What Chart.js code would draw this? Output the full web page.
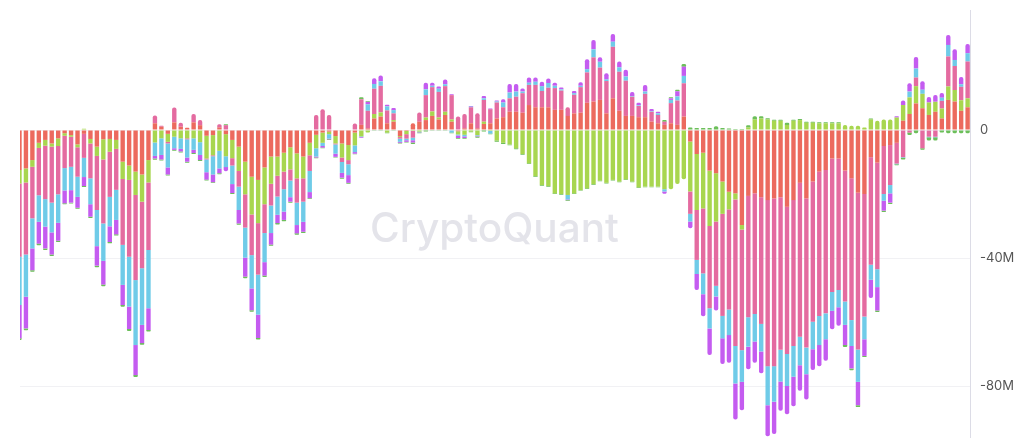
<!DOCTYPE html>
<html lang="en">
<head>
    <meta charset="UTF-8">
    <title>Stacked flows</title>
    <script src="https://cdn.jsdelivr.net/npm/chart.js"></script>
    <style>
        html, body { margin: 0; padding: 0; background: #ffffff; }
        #wrap { width: 1030px; height: 438px; position: relative; }
    </style>
</head>
<body>
    <div id="wrap"><canvas id="flowChart"></canvas></div>

    <script>
        // values in millions, one entry per bar (148 bars)
        const red = [
            -12.5, -12.0, -9.4, -4.0, -3.1, -4.2, -2.6, -1.0, -1.6, -4.5,
            -1.2, -2.8, -5.2, -2.9, -2.8, -3.1, -9.9, -11.1, -13.0, -13.9,
            -9.4, 2.1, 1.0, -1.2, 2.4, 1.0, 0.7, 2.4, 1.5, -1.8,
            -1.6, 0.8, -1.3, -3.1, -5.2, -9.9, -14.6, -15.6, -11.7, -8.3,
            -8.3, -7.1, -5.4, -7.3, -8.3, -4.0, -1.5, -0.8, -0.5, -1.9,
            -4.2, -4.7, -0.8, 1.6, 0.5, 3.6, 4.2, 2.1, 2.6, -1.9,
            -0.3, 2.1, 2.6, 3.1, 4.4, 3.3, 4.7, 2.6, -0.4, 0.5,
            2.1, 0.5, 1.9, 2.1, 3.6, 4.0, 5.7, 5.7, 5.4, 7.8,
            7.1, 7.1, 7.1, 6.3, 6.3, 4.4, 5.2, 5.4, 8.5, 8.9,
            9.4, 5.2, 9.9, 6.0, 4.4, 4.4, 4.0, 4.0, 2.6, 2.1,
            1.6, 2.1, 1.6, 4.2, -3.6, -7.5, -7.1, -12.7, -13.5, -16.1,
            -19.3, -19.8, -29.7, -20.6, -19.8, -21.0, -21.9, -21.4, -21.0, -24.0,
            -21.9, -16.5, -21.4, -16.1, -13.0, -12.5, -8.9, -8.9, -12.7, -15.1,
            -19.6, -20.0, -8.5, -10.2, -5.0, -4.7, -4.0, 2.9, 5.0, 8.3,
            6.8, 4.7, 5.7, 3.6, 9.4, 8.9, 6.0, 7.1
        ];
        const lime = [
            -4.2, -4.4, -2.1, -1.6, -1.8, -1.0, -2.4, -0.8, -0.5, -0.9,
            0.4, -1.4, -2.9, -6.3, -4.0, -2.8, -5.4, -4.5, -7.3, -8.5,
            -7.0, -3.9, -2.6, -2.5, -2.1, -2.6, -2.6, -2.6, -3.8, -7.1,
            -6.3, -6.5, -6.9, -5.7, -7.6, -10.2, -11.8, -13.5, -11.5, -8.5,
            -6.0, -5.9, -6.9, -7.8, -6.8, -3.9, -4.2, -3.2, -0.8, -2.3,
            -4.4, -4.7, -4.0, -2.0, -0.8, 1.4, 1.3, -0.8, 0.5, -0.3,
            -1.0, -0.3, -0.5, 0.8, 1.4, 0.6, 1.0, 0.7, -1.0, -1.5,
            -0.5, -1.6, 0.7, -0.3, -3.3, -4.0, -4.5, -5.7, -7.5, -10.4,
            -14.4, -17.2, -17.5, -19.8, -20.0, -20.3, -19.8, -18.8, -18.2, -16.9,
            -15.8, -16.5, -15.6, -16.1, -15.4, -16.1, -17.9, -17.7, -17.7, -17.7,
            -18.5, -18.5, -16.9, -15.4, -15.6, -17.5, -17.4, -17.3, -15.1, -10.1,
            -5.5, -1.9, -1.4, 0.8, 3.3, 3.6, 3.3, 2.9, 2.9, 1.6,
            2.9, 3.1, 2.3, 2.3, 2.1, 2.1, 2.1, 2.1, 1.6, 1.3,
            1.3, 0.8, 3.3, 2.9, 3.3, 3.3, 3.9, 4.9, 5.2, 5.4,
            4.5, 3.9, 3.1, 3.1, 4.2, 3.6, 3.3, 2.8
        ];
        const pink = [
            -22.9, -22.5, -16.1, -14.8, -16.7, -17.5, -15.1, -10.1, -9.4, -9.2,
            -7.5, -10.9, -16.9, -20.0, -14.1, -12.8, -20.6, -24.0, -26.6, -20.8,
            -21.1, 2.4, 0.3, -0.5, 4.6, 1.3, -0.3, 2.6, 1.6, -0.3,
            -0.3, 1.0, 1.5, -2.3, -4.9, -10.4, -12.7, -16.1, -9.0, -6.8,
            -6.5, -5.5, -3.5, -7.6, -7.3, -4.9, 4.7, 6.5, 4.7, -0.3,
            -1.4, -1.3, 2.0, 8.0, 5.5, 7.9, 8.3, 4.0, 2.1, -0.5,
            -1.4, -2.1, 2.9, 7.0, 7.6, 8.0, 8.0, 7.6, 4.2, 4.5,
            5.0, 4.7, 6.8, 4.4, 5.0, 3.1, 4.2, 4.7, 6.1, 6.3,
            7.0, 5.1, 6.1, 6.8, 6.0, 2.7, 5.8, 8.0, 9.5, 13.8,
            10.1, 10.1, 16.1, 12.2, 11.0, 6.0, 3.5, 7.3, 3.1, 2.6,
            1.0, 6.3, 7.6, 10.4, -7.0, -15.6, -20.3, -25.7, -20.1, -31.9,
            -31.3, -45.8, -37.7, -37.9, -37.7, -39.6, -51.9, -52.4, -47.7, -46.0,
            -45.6, -48.1, -46.6, -43.8, -45.1, -44.8, -41.7, -41.1, -40.9, -44.3,
            -49.0, -38.3, -33.6, -33.3, -15.0, -12.5, -6.5, -8.5, -0.8, 2.7,
            -5.7, -2.1, -2.1, 2.4, 9.4, 7.5, 4.2, 11.5
        ];
        const blue = [
            -15.1, -13.2, -9.4, -8.3, -8.6, -9.3, -8.9, -7.0, -7.3, -6.3,
            -6.0, -8.1, -11.3, -11.7, -9.2, -9.4, -12.5, -15.6, -20.3, -17.7,
            -18.2, -4.2, -5.2, -7.5, -3.6, -3.3, -5.7, -3.6, -4.0, -4.0,
            -5.7, -5.5, -3.4, -5.8, -7.3, -9.4, -10.4, -12.5, -9.1, -8.6,
            -5.7, -7.0, -5.2, -7.0, -6.3, -6.6, -2.6, -1.0, -1.4, -2.9,
            -3.4, -3.4, -2.1, -0.2, 2.0, 1.5, 1.4, 1.3, 1.0, -1.0,
            -0.5, -0.8, -0.2, 1.8, 0.4, 1.0, 0.6, -0.8, -0.3, -0.5,
            0.2, -0.2, 0.5, -0.8, 0.3, 1.5, 1.8, 1.6, 0.5, 0.7,
            1.0, 1.5, 1.5, 0.7, 0.4, -1.4, 0.5, 0.4, 1.0, 2.5,
            1.8, 0.5, 1.6, 1.4, 1.3, 0.2, 0.2, 0.7, 0.2, 0.5,
            -0.7, 1.0, 1.3, 2.3, -2.4, -4.4, -6.5, -6.3, -3.3, -7.0,
            -8.0, -11.7, -9.9, -9.2, -8.6, -8.6, -12.2, -11.1, -9.9, -10.0,
            -9.6, -8.9, -8.3, -8.6, -9.1, -8.1, -5.9, -5.4, -7.3, -8.1,
            -10.1, -7.1, -4.7, -5.6, -2.1, -2.6, -0.2, -0.2, 1.8, 2.8,
            1.3, -0.2, -0.2, 1.0, 3.6, 1.9, 0.8, 2.6
        ];
        const purple = [
            -10.4, -9.9, -6.8, -6.8, -6.8, -6.9, -5.6, -4.0, -3.9, -3.4,
            -2.8, -3.9, -6.1, -7.4, -4.9, -4.5, -6.3, -7.0, -9.4, -5.7,
            -6.8, -0.8, -1.4, -2.2, -0.5, -0.8, -1.3, -1.0, -1.6, -2.3,
            -2.4, -1.5, -1.3, -2.8, -4.2, -5.9, -6.8, -7.3, -4.2, -3.6,
            -2.6, -2.6, -1.4, -2.6, -3.1, -1.9, -0.3, -0.5, -0.2, -1.0,
            -1.5, -2.4, -0.5, -0.2, 0.8, 1.8, 1.8, 0.5, 0.7, -0.3,
            -0.5, -0.7, -0.1, 2.1, 1.0, 0.7, 1.5, 0.3, -0.8, -0.5,
            0.2, -0.2, 0.7, 0.2, 0.3, 1.0, 2.7, 2.4, 1.0, 1.6,
            1.3, 1.4, 1.4, 1.0, 0.6, -0.2, 0.7, 1.1, 3.1, 2.9,
            1.4, 1.9, 2.4, 1.8, 2.1, 1.3, 0.8, 2.1, 0.7, 0.5,
            -0.7, 0.5, 1.6, 2.9, -2.1, -5.0, -6.9, -8.3, -4.4, -8.0,
            -8.6, -11.3, -8.9, -7.1, -6.6, -6.8, -9.7, -10.1, -9.1, -8.8,
            -9.2, -8.0, -7.9, -6.5, -6.6, -6.7, -5.8, -5.8, -6.3, -7.0,
            -7.3, -5.2, -5.7, -7.3, -3.1, -2.9, 0.4, 1.4, 2.6, 3.6,
            2.6, 1.7, 2.1, 1.5, 3.1, 3.3, 2.3, 2.9
        ];
        const darkGreen = [
            -0.5, -0.6, -0.5, -0.5, -0.5, -0.5, -0.4, -0.3, -0.3, -0.3,
            -0.3, -0.4, -0.5, -0.5, -0.4, -0.4, -0.5, -0.6, -0.6, -0.5,
            -0.5, -0.4, -0.3, -0.3, -0.3, -0.3, -0.3, -0.3, -0.3, -0.3,
            -0.3, -0.3, 0.3, -0.3, -0.4, -0.5, -0.5, -0.5, -0.4, -0.4,
            -0.4, -0.4, -0.3, -0.4, -0.4, -0.3, -0.2, -0.2, -0.2, -0.2,
            -0.3, -0.3, -0.2, 0.6, 0.3, -0.2, -0.2, -0.2, -0.2, -0.2,
            -0.2, -0.5, -0.2, -0.5, -0.2, -0.2, -0.2, -0.2, -0.2, -0.2,
            -0.2, -0.4, -0.5, -0.2, -0.4, -0.4, -0.3, -0.3, -0.2, -0.2,
            -0.2, -0.2, -0.2, -0.2, -0.2, -0.2, -0.2, -0.2, -0.2, -0.2,
            -0.2, -0.2, -0.2, -0.2, -0.2, -0.2, -0.2, -0.2, -0.2, -0.2,
            0.5, 0.3, 0.5, 0.8, 0.8, 0.6, 0.6, 0.6, 1.2, 0.6,
            0.5, 0.3, 0.3, 0.7, 1.0, 0.7, 0.4, 0.3, 0.3, 0.7,
            0.3, 0.3, 0.3, 0.3, 0.3, 0.3, 0.3, 0.3, -0.6, -0.6,
            -0.6, -0.3, 0.3, -0.5, -0.4, -0.4, -0.3, -0.5, -0.8, -1.0,
            -0.5, -1.0, -1.0, -0.8, -1.0, -1.0, -1.0, -1.0
        ];
        const yTicks = [-80, -40, 0];

        const series = [
            { label: 'red', data: red, color: '#ec6a5e' },
            { label: 'lime', data: lime, color: '#a8d64f' },
            { label: 'pink', data: pink, color: '#e46ba0' },
            { label: 'blue', data: blue, color: '#6fcbe8' },
            { label: 'purple', data: purple, color: '#c45cf0' },
            { label: 'darkGreen', data: darkGreen, color: '#6cbf5a' }
        ];

        // faint brand mark behind the bars
        const watermark = {
            id: 'watermark',
            beforeDatasetsDraw(chart) {
                const ctx = chart.ctx;
                ctx.save();
                ctx.font = '500 40px Inter, "Open Sans", sans-serif';
                const w = ctx.measureText('CryptoQuant').width;
                const size = 40 * 249 / w;
                ctx.font = '500 ' + size + 'px Inter, "Open Sans", sans-serif';
                ctx.fillStyle = '#e4e4ea';
                ctx.textBaseline = 'alphabetic';
                ctx.fillText('CryptoQuant', 370, 242);
                ctx.restore();
            }
        };

        const ctx = document.getElementById('flowChart').getContext('2d');
        new Chart(ctx, {
            type: 'bar',
            data: {
                datasets: series.map(s => ({
                    label: s.label,
                    data: s.data.map((v, i) => ({ x: i, y: v })),
                    backgroundColor: s.color,
                    borderWidth: 0,
                    borderRadius: 2,
                    barPercentage: 0.68,
                    categoryPercentage: 1,
                    clip: 0
                }))
            },
            options: {
                responsive: true,
                maintainAspectRatio: false,
                animation: false,
                layout: { padding: { left: 20, top: 10, right: 0, bottom: 0 } },
                plugins: {
                    legend: { display: false },
                    tooltip: { enabled: false }
                },
                scales: {
                    x: {
                        type: 'linear',
                        stacked: true,
                        display: false,
                        offset: false,
                        min: 0.08,
                        max: 147.37
                    },
                    y: {
                        type: 'linear',
                        stacked: true,
                        position: 'right',
                        min: -96.25,
                        max: 37.5,
                        afterBuildTicks: axis => {
                            axis.ticks = yTicks.map(v => ({ value: v }));
                        },
                        afterFit: scale => {
                            scale.width = 60;
                            scale.paddingTop = 0;
                            scale.paddingBottom = 0;
                        },
                        grid: { color: '#f1f1f4', drawTicks: false },
                        border: { display: true, color: '#dcdce6' },
                        ticks: {
                            padding: 10,
                            color: '#555555',
                            font: { family: 'Inter, "Open Sans", sans-serif', size: 13 },
                            callback: v => v === 0 ? '0' : v + 'M'
                        }
                    }
                }
            },
            plugins: [watermark]
        });
    </script>
</body>
</html>
